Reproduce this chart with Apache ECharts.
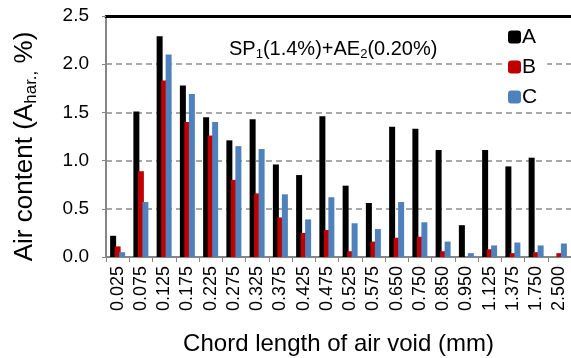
<!DOCTYPE html>
<html>
<head>
<meta charset="utf-8">
<script src="https://cdn.jsdelivr.net/npm/echarts@6/dist/echarts.min.js"></script>
<style>
  html, body { margin: 0; padding: 0; background: #fff; }
  #chart { width: 571px; height: 358px; }
</style>
</head>
<body>
<div id="chart"></div>
<script>
// chord length classes (mm)
const chordLengths = ['0.025', '0.075', '0.125', '0.175', '0.225', '0.275', '0.325', '0.375', '0.425', '0.475',
  '0.525', '0.575', '0.650', '0.750', '0.850', '0.950', '1.125', '1.375', '1.750', '2.500'];

const seriesA = [0.22, 1.51, 2.29, 1.78, 1.45, 1.21, 1.43, 0.96, 0.85, 1.46,
  0.74, 0.56, 1.35, 1.33, 1.11, 0.33, 1.11, 0.94, 1.03, 0];
const seriesB = [0.11, 0.89, 1.83, 1.40, 1.26, 0.80, 0.66, 0.41, 0.25, 0.28,
  0.06, 0.16, 0.20, 0.21, 0.06, 0, 0.08, 0.04, 0.05, 0.04];
const seriesC = [0.05, 0.57, 2.10, 1.69, 1.40, 1.15, 1.12, 0.65, 0.39, 0.62,
  0.35, 0.29, 0.57, 0.36, 0.16, 0.04, 0.12, 0.15, 0.12, 0.14];

const yTicks = [0, 0.5, 1.0, 1.5, 2.0, 2.5];

const font = 'Liberation Sans, Arial, sans-serif';
const chart = echarts.init(document.getElementById('chart'));

chart.setOption({
  animation: false,
  textStyle: { fontFamily: font },
  title: {
    text: '{n|SP}{s|1}{n|(1.4%)+AE}{s|2}{n|(0.20%)}',
    left: 224,
    top: 32,
    textStyle: {
      fontWeight: 'normal',
      rich: {
        n: { fontSize: 20, color: '#000', fontFamily: font, lineHeight: 24 },
        s: { fontSize: 13, color: '#000', fontFamily: font, lineHeight: 24, padding: [10, 0, 0, 0] }
      }
    }
  },
  legend: {
    data: ['A', 'B', 'C'],
    orient: 'vertical',
    left: 504,
    top: 24,
    itemWidth: 13,
    itemHeight: 13,
    itemGap: 8,
    padding: [2, 10, 2, 4],
    backgroundColor: '#fff',
    textStyle: { fontSize: 21, lineHeight: 22, color: '#000', fontFamily: font, padding: [0, 0, 0, -4] }
  },
  grid: { left: 106, right: 0, top: 16, bottom: 101, outerBoundsMode: 'none' },
  xAxis: [
    {
      type: 'category',
      data: chordLengths,
      name: 'Chord length of air void (mm)',
      nameLocation: 'middle',
      nameGap: 75,
      nameTextStyle: { fontSize: 24, color: '#000', fontFamily: font },
      axisLine: { lineStyle: { color: '#868686', width: 2 } },
      axisTick: { show: true, length: 5, lineStyle: { color: '#868686' } },
      axisLabel: { rotate: 90, interval: 0, fontSize: 18, color: '#000', margin: 9, fontFamily: font }
    },
    {
      type: 'category',
      position: 'top',
      data: chordLengths,
      axisLine: { lineStyle: { color: '#000', width: 3 } },
      axisTick: { show: false },
      axisLabel: { show: false }
    }
  ],
  yAxis: {
    type: 'value',
    min: 0,
    max: 2.5,
    interval: 0.5,
    name: '{n|Air content (A}{s|har.,}{n| %)}',
    nameLocation: 'middle',
    nameGap: 66,
    nameTextStyle: {
      padding: [0, 20, 0, 0],
      rich: {
        n: { fontSize: 26, color: '#000', fontFamily: font, lineHeight: 30 },
        s: { fontSize: 17, color: '#000', fontFamily: font, lineHeight: 30, padding: [12, 0, 0, 0] }
      }
    },
    axisLine: { show: true, lineStyle: { color: '#868686', width: 2 } },
    axisTick: { show: true, length: 4, lineStyle: { color: '#868686' } },
    axisLabel: {
      fontSize: 19, color: '#000', margin: 17, fontFamily: font,
      formatter: v => yTicks.includes(v) ? v.toFixed(1) : ''
    },
    splitLine: { show: true, lineStyle: { color: '#8c8c8c', type: [6, 4], width: 1.5 } }
  },
  series: [
    { name: 'A', type: 'bar', data: seriesA, itemStyle: { color: '#000' }, barWidth: 6, barGap: '-25%', barCategoryGap: '34%' },
    { name: 'B', type: 'bar', data: seriesB, itemStyle: { color: '#c00000' }, barWidth: 6, barGap: '-25%' },
    { name: 'C', type: 'bar', data: seriesC, itemStyle: { color: '#4f81bd' }, barWidth: 6, barGap: '-25%' }
  ]
});
</script>
</body>
</html>
